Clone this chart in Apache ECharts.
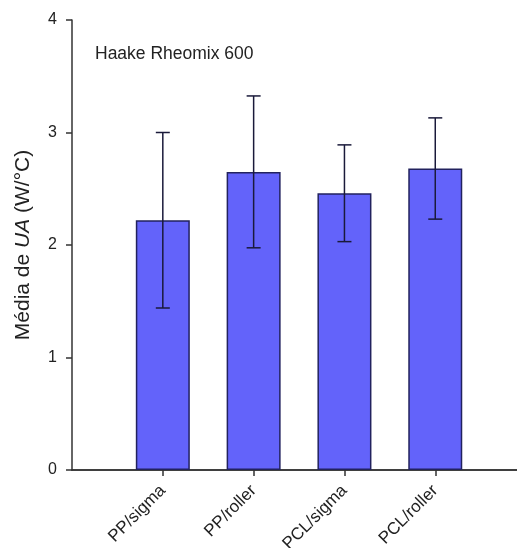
<!DOCTYPE html>
<html>
<head>
<meta charset="utf-8">
<script src="https://cdn.jsdelivr.net/npm/echarts@6/dist/echarts.min.js"></script>
<style>
  html, body { margin: 0; padding: 0; background: #fff; }
  #chart { width: 517px; height: 548px; }
</style>
</head>
<body>
<div id="chart"></div>
<script>
// Mean UA per material / rotor combination, with standard deviation
const categories = ['PP/sigma', 'PP/roller', 'PCL/sigma', 'PCL/roller'];
const meanUA = [2.22, 2.65, 2.46, 2.68];
const stdUA = [0.78, 0.675, 0.43, 0.45];
const yTicks = [0, 1, 2, 3, 4];

const positions = categories.map((_, i) => i + 1);
const barData = positions.map((p, i) => [p, meanUA[i]]);
const errData = positions.map((p, i) => [p, meanUA[i] - stdUA[i], meanUA[i] + stdUA[i]]);

const X_MAX = 4.9;
const FONT = '"Liberation Sans", Arial, sans-serif';
const chart = echarts.init(document.getElementById('chart'), null, { renderer: 'canvas' });

chart.setOption({
  animation: false,
  backgroundColor: '#ffffff',
  grid: { left: 72, right: 0, top: 20, bottom: 78, containLabel: false, outerBoundsMode: 'none' },
  xAxis: [{
    type: 'value',
    position: 'bottom',
    min: 0,
    max: X_MAX,
    splitLine: { show: false },
    axisLine: { show: true, onZero: false, lineStyle: { color: '#333', width: 1.5 } },
    axisTick: { show: true, customValues: positions, length: 6, inside: false, lineStyle: { color: '#333', width: 1.5 } },
    axisLabel: {
      customValues: positions,
      rotate: 45,
      margin: 18,
      fontFamily: FONT,
      fontSize: 17,
      color: '#222',
      formatter: v => categories[Math.round(v) - 1] || ''
    }
  }, {
    type: 'value',
    position: 'top',
    min: 0,
    max: X_MAX,
    splitLine: { show: false },
    axisLine: { show: true, lineStyle: { color: '#333', width: 1.5 } },
    axisTick: { show: false },
    axisLabel: { show: false }
  }],
  yAxis: {
    type: 'value',
    min: yTicks[0],
    max: yTicks[yTicks.length - 1],
    interval: 1,
    splitLine: { show: false },
    axisLine: { show: true, lineStyle: { color: '#333', width: 1.5 } },
    axisTick: { show: true, length: 6, inside: false, lineStyle: { color: '#333', width: 1.5 } },
    axisLabel: { margin: 15, fontFamily: FONT, fontSize: 16, color: '#222' },
    name: '{n|Média de }{i|UA}{n| (W/°C)}',
    nameLocation: 'middle',
    nameGap: 38,
    nameRotate: 90,
    nameTextStyle: {
      rich: {
        n: { fontFamily: FONT, fontSize: 21, color: '#222' },
        i: { fontFamily: FONT, fontSize: 21, fontStyle: 'italic', color: '#222' }
      }
    }
  },
  graphic: [{
    type: 'text',
    left: 95,
    top: 45,
    style: { text: 'Haake Rheomix 600', font: '17.5px ' + FONT, fill: '#222' }
  }],
  series: [{
    type: 'bar',
    xAxisIndex: 0,
    data: barData,
    barWidth: 54,
    itemStyle: { color: '#6363fa', borderColor: '#22225e', borderWidth: 1.5 }
  }, {
    type: 'custom',
    xAxisIndex: 0,
    data: errData,
    z: 10,
    renderItem: function (params, api) {
      const x = api.value(0);
      const lo = api.coord([x, api.value(1)]);
      const hi = api.coord([x, api.value(2)]);
      const half = 7;
      const style = { stroke: '#1a1a3a', lineWidth: 1.5 };
      return {
        type: 'group',
        children: [
          { type: 'line', shape: { x1: lo[0], y1: lo[1], x2: hi[0], y2: hi[1] }, style },
          { type: 'line', shape: { x1: hi[0] - half, y1: hi[1], x2: hi[0] + half, y2: hi[1] }, style },
          { type: 'line', shape: { x1: lo[0] - half, y1: lo[1], x2: lo[0] + half, y2: lo[1] }, style }
        ]
      };
    }
  }]
});
</script>
</body>
</html>
